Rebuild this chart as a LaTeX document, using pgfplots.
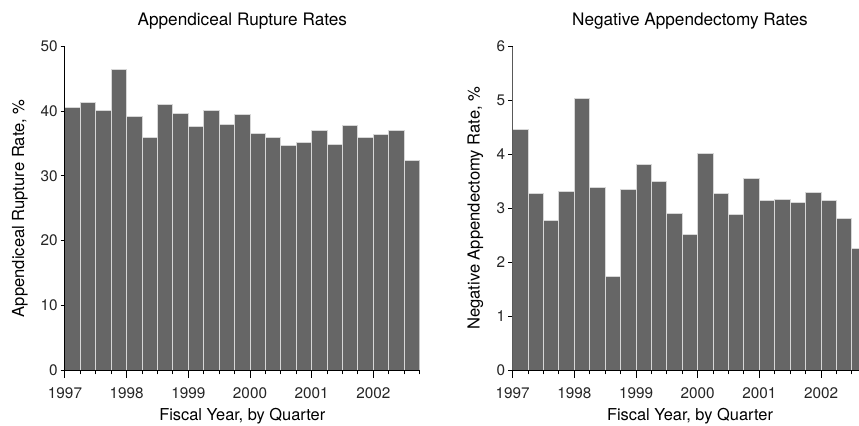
\documentclass[border=0pt]{standalone}
\usepackage{fontspec}
\setmainfont{TeX Gyre Heros}
\usepackage{pgfplots}
\pgfplotsset{compat=1.18}
\definecolor{barfill}{RGB}{102,102,102}
\definecolor{baredge}{RGB}{215,215,215}
\pgfplotstableread{
x y
0.5 40.57
1.5 41.4
2.5 40.15
3.5 46.5
4.5 39.2
5.5 36.0
6.5 41.1
7.5 39.6
8.5 37.7
9.5 40.05
10.5 38.0
11.5 39.5
12.5 36.5
13.5 35.9
14.5 34.7
15.5 35.2
16.5 37.1
17.5 34.9
18.5 37.8
19.5 36.0
20.5 36.4
21.5 37.0
22.5 32.4
}\rupture
\pgfplotstableread{
x y
0.5 4.47
1.5 3.28
2.5 2.78
3.5 3.32
4.5 5.04
5.5 3.38
6.5 1.74
7.5 3.34
8.5 3.82
9.5 3.50
10.5 2.90
11.5 2.52
12.5 4.02
13.5 3.28
14.5 2.89
15.5 3.56
16.5 3.15
17.5 3.17
18.5 3.11
19.5 3.30
20.5 3.15
21.5 2.81
22.5 2.25
}\negative
\begin{document}
\begin{tikzpicture}
\useasboundingbox (0,0) rectangle (429.5pt,212.5pt);
\pgfplotsset{
  rates/.style={
    width=177.3pt, height=161.7pt, scale only axis,
    xmin=0, xmax=23, ymin=0,
    axis x line*=bottom, axis y line*=left,
    axis line style={-, line width=0.5pt},
    axis on top,
    tick align=outside,
    major tick length=2.2pt,
    tick style={black, line width=0.5pt},
    /pgf/number format/assume math mode=true,
    xtick={0,...,23}, xticklabels={},
    extra x ticks={0,4,8,12,16,20},
    extra x tick labels={1997,1998,1999,2000,2001,2002},
    extra x tick style={major tick length=4pt},
    ticklabel style={font=\fontsize{7.65}{8}\selectfont, text=black!85},
    xticklabel style={anchor=base, yshift=-10.3pt},
    yticklabel style={xshift=2pt},
    title style={at={(axis description cs:0.5,1)}, anchor=base, yshift=4.35pt, font=\fontsize{8.6}{10}\selectfont},
    xlabel style={at={(axis description cs:0.5,0)}, anchor=base, yshift=-25.35pt, font=\fontsize{8.2}{10}\selectfont},
    ylabel style={anchor=center, font=\fontsize{8.3}{10}\selectfont},
    xlabel={Fiscal Year, by Quarter},
  },
  rbar/.style={ybar, bar width=1, fill=barfill, draw=baredge, line width=0.5pt},
}
\begin{axis}[rates, at={(32.5pt,27.5pt)}, anchor=south west,
  ymax=50, ytick={0,10,...,50},
  y axis line style={black},
  title={Appendiceal Rupture Rates},
  ylabel={Appendiceal Rupture Rate, \%},
  ylabel style={at={(axis description cs:-0.127,0.5)}},
]
\addplot[rbar] table[x=x,y=y] {\rupture};
\end{axis}
\begin{axis}[rates, at={(256.35pt,27.5pt)}, anchor=south west,
  ymax=6, ytick={0,1,...,6},
  y axis line style={black!65},
  title={Negative Appendectomy Rates},
  ylabel={Negative Appendectomy Rate, \%},
  ylabel style={at={(axis description cs:-0.105,0.5)}},
]
\addplot[rbar] table[x=x,y=y] {\negative};
\end{axis}
\end{tikzpicture}
\end{document}
